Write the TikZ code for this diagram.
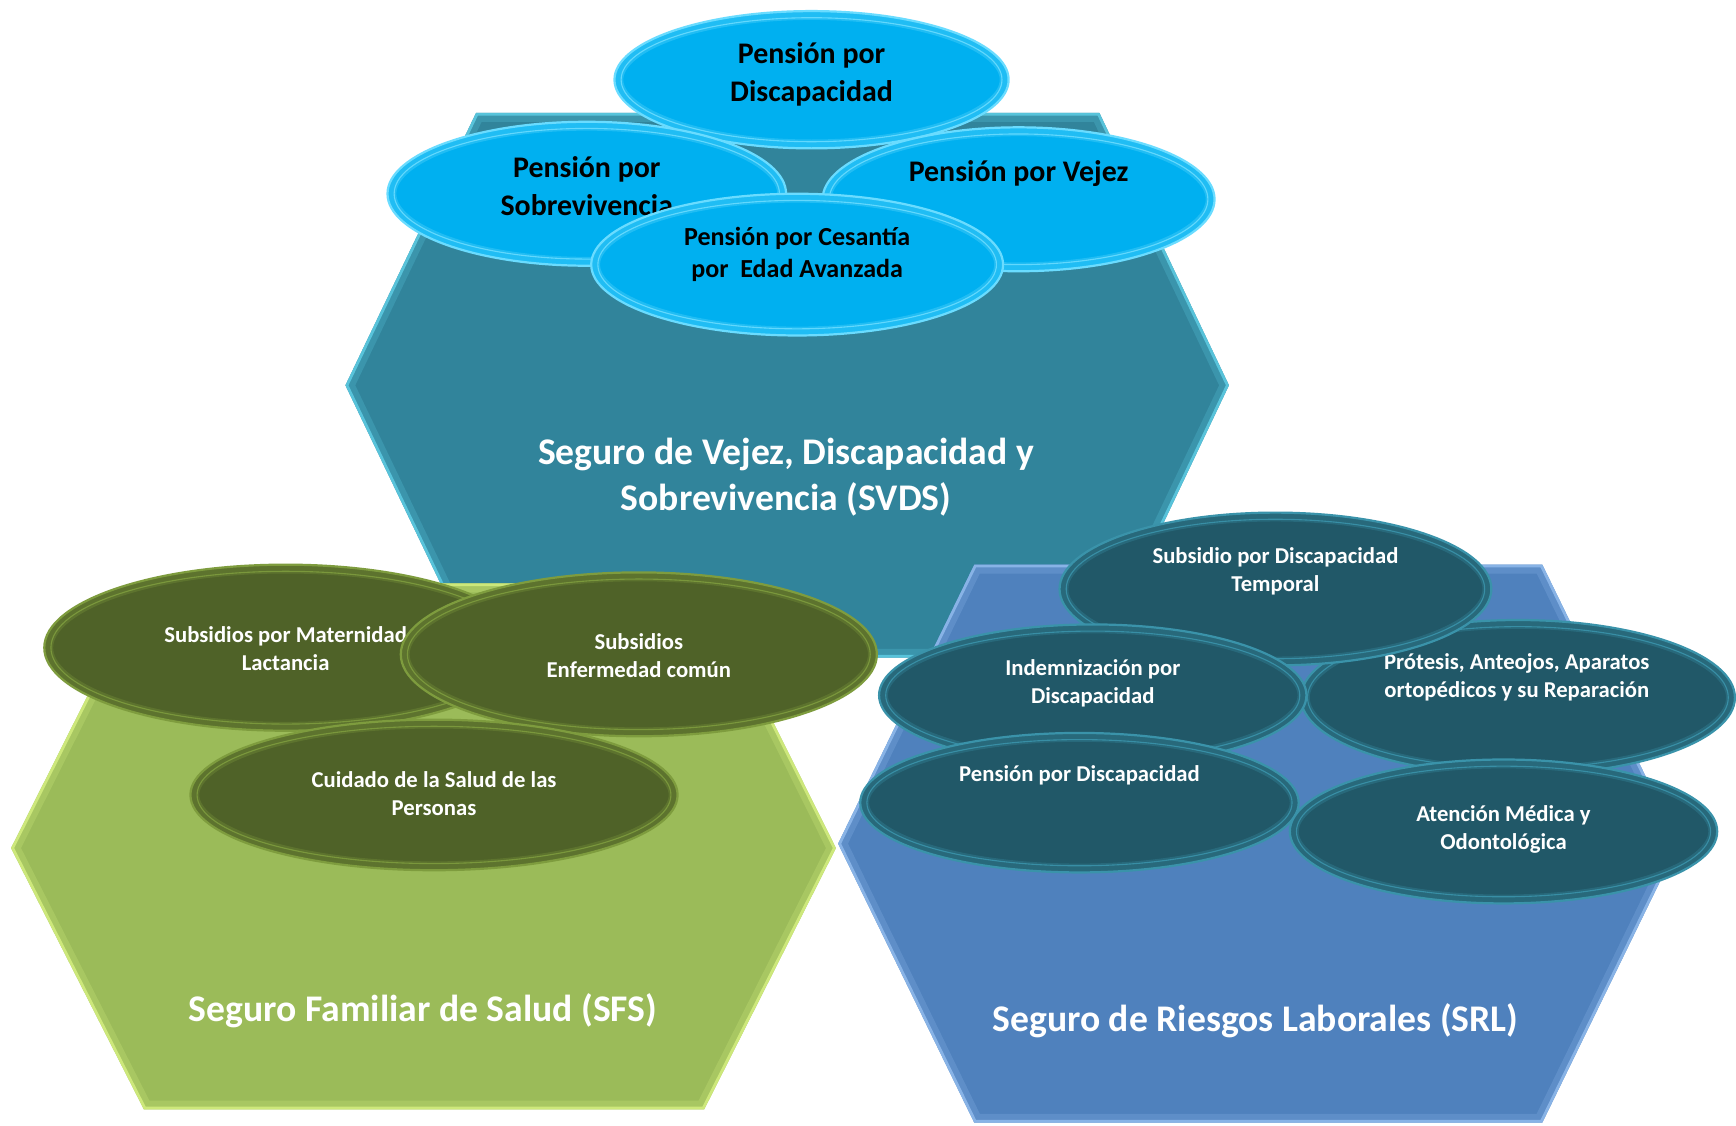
\documentclass[tikz,border=0pt]{standalone}
\usepackage{fontspec}
\setmainfont{Carlito}
\usetikzlibrary{shapes.geometric}

\definecolor{svds}{HTML}{31849B}
\definecolor{svdsrim}{HTML}{5CC8E0}
\definecolor{sfs}{HTML}{9BBB59}
\definecolor{sfsrim}{HTML}{D2EC7E}
\definecolor{srl}{HTML}{4F81BD}
\definecolor{srlrim}{HTML}{8DB8EA}
\definecolor{cyanfill}{HTML}{00B0F0}
\definecolor{cyanrim}{HTML}{6ADCFF}
\definecolor{olivefill}{HTML}{4F6228}
\definecolor{oliverim}{HTML}{7E9C3E}
\definecolor{tealfill}{HTML}{215868}
\definecolor{tealrim}{HTML}{3A93AA}

\newcommand{\hexa}[3]{%
  \fill[#2] #1 -- cycle;
  \begin{scope}
    \clip #1 -- cycle;
    \draw[#3, line width=16pt, opacity=0.25, line join=round] #1 -- cycle;
    \draw[#3, line width=5pt, opacity=0.9, line join=round] #1 -- cycle;
  \end{scope}
}

\newcommand{\pill}[7]{%
  \node[ellipse, inner sep=0pt, outer sep=0pt,
        minimum width=2*#4, minimum height=2*#5,
        fill=#6, draw=#7, line width=2pt,
        path picture={
          \draw[#7, line width=16pt, opacity=0.3]
            (path picture bounding box.center) ellipse [x radius=#4pt, y radius=#5pt];
          \draw[#7, line width=1pt, opacity=0.9]
            (path picture bounding box.center) ellipse [x radius=#4pt-6pt, y radius=#5pt-6pt];
        }] (#1) at (#2,#3) {};
}

\tikzset{
  ttl/.style={text=white, font=\bfseries\fontsize{34}{42}\selectfont, align=center},
  bigtxt/.style={text=black, font=\bfseries\fontsize{27}{34}\selectfont, align=center},
  midtxt/.style={text=black, font=\bfseries\fontsize{23.5}{29}\selectfont, align=center},
  smtxt/.style={text=white, font=\bfseries\fontsize{20.5}{25}\selectfont, align=center}
}

\begin{document}
\begin{tikzpicture}[x=1pt,y=-1pt]
\useasboundingbox (0,0) rectangle (1568,1017);
\fill[white] (0,0) rectangle (1568,1017);

% Hexagon SVDS
\hexa{(430,102) -- (993,102) -- (1110,348) -- (993,594) -- (430,594) -- (312,348)}{svds}{svdsrim}
\node[ttl] (tsvds) at (710,431) {Seguro de Vejez, Discapacidad y\\Sobrevivencia (SVDS)};

% Hexagon SFS
\hexa{(130,527) -- (636,527) -- (755,766) -- (636,1002) -- (130,1002) -- (10,766)}{sfs}{sfsrim}
\node[ttl] (tsfs) at (382,913) {Seguro Familiar de Salud (SFS)};

% Hexagon SRL
\hexa{(880,510) -- (1393,510) -- (1516,762) -- (1393,1014) -- (880,1014) -- (757,762)}{srl}{srlrim}
\node[ttl] (tsrl) at (1134,922) {Seguro de Riesgos Laborales (SRL)};

% Top (cyan) ellipses
\pill{e1}{733}{72}{178}{62}{cyanfill}{cyanrim}
\node[bigtxt] (t1) at (733,67) {Pensión por\\Discapacidad};
\pill{e2}{530}{175}{180}{65}{cyanfill}{cyanrim}
\node[bigtxt] (t2) at (530,168) {Pensión por\\Sobrevivencia};
\pill{e3}{920}{180}{177}{65}{cyanfill}{cyanrim}
\node[bigtxt] (t3) at (920,157) {Pensión por Vejez};
\pill{e4}{720}{239}{186}{64}{cyanfill}{cyanrim}
\node[midtxt] (t4) at (720,230) {Pensión por Cesantía\\por~ Edad Avanzada};

% Green (olive) ellipses
\pill{e5}{258}{585}{218}{75}{olivefill}{oliverim}
\node[smtxt] (t5) at (258,586) {Subsidios por Maternidad\\Lactancia};
\pill{e6}{577}{591}{215}{74}{olivefill}{oliverim}
\node[smtxt] (t6) at (577,592) {Subsidios\\Enfermedad común};
\pill{e7}{392}{718}{220}{68}{olivefill}{oliverim}
\node[smtxt] (t7) at (392,717) {Cuidado de la Salud de las\\Personas};

% Teal ellipses
\pill{e10}{1371}{630}{196}{70}{tealfill}{tealrim}
\node[smtxt] (t10) at (1370,612) {Prótesis, Anteojos, Aparatos\\ortopédicos y su Reparación};
\pill{e8}{1152}{532}{195}{69}{tealfill}{tealrim}
\node[smtxt] (t8) at (1152,516) {Subsidio por Discapacidad\\Temporal};
\pill{e9}{987}{628}{193}{64}{tealfill}{tealrim}
\node[smtxt] (t9) at (987,617) {Indemnización por\\Discapacidad};
\pill{e11}{975}{725}{198}{63}{tealfill}{tealrim}
\node[smtxt] (t11) at (975,700) {Pensión por Discapacidad};
\pill{e12}{1358}{751}{193}{65}{tealfill}{tealrim}
\node[smtxt] (t12) at (1358,749) {Atención Médica y\\Odontológica};
\end{tikzpicture}
\end{document}
